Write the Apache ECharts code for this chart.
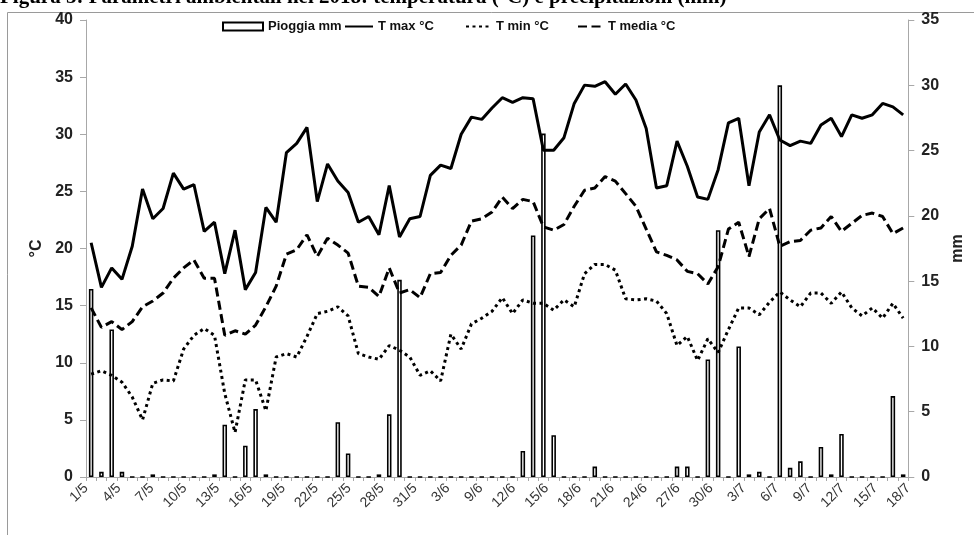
<!DOCTYPE html>
<html>
<head>
<meta charset="utf-8">
<script src="https://cdn.jsdelivr.net/npm/echarts@6/dist/echarts.min.js"></script>
<style>
  html, body { margin: 0; padding: 0; background: #fff; }
  #chart { width: 974px; height: 535px; }
</style>
</head>
<body>
<div id="chart"></div>
<script>
// Daily observations, 1 May – 19 July
const days = [
  '1/5','2/5','3/5','4/5','5/5','6/5','7/5','8/5','9/5','10/5',
  '11/5','12/5','13/5','14/5','15/5','16/5','17/5','18/5','19/5','20/5',
  '21/5','22/5','23/5','24/5','25/5','26/5','27/5','28/5','29/5','30/5',
  '31/5','1/6','2/6','3/6','4/6','5/6','6/6','7/6','8/6','9/6',
  '10/6','11/6','12/6','13/6','14/6','15/6','16/6','17/6','18/6','19/6',
  '20/6','21/6','22/6','23/6','24/6','25/6','26/6','27/6','28/6','29/6',
  '30/6','1/7','2/7','3/7','4/7','5/7','6/7','7/7','8/7','9/7',
  '10/7','11/7','12/7','13/7','14/7','15/7','16/7','17/7','18/7','19/7'
];

// Labels shown under the time axis
const tickLabels = [
  '1/5','4/5','7/5','10/5','13/5','16/5','19/5','22/5','25/5','28/5',
  '31/5','3/6','9/6','12/6','15/6','18/6','21/6','24/6','27/6','30/6',
  '3/7','6/7','9/7','12/7','15/7','18/7'
];

// Rainfall (mm)
const rain = [
  14.4, 0.4, 11.3, 0.4, 0, 0, 0.2, 0, 0, 0,
  0, 0, 0.2, 4.0, 0, 2.4, 5.2, 0.2, 0, 0,
  0, 0, 0, 0, 4.2, 1.8, 0, 0, 0.2, 4.8,
  15.1, 0, 0, 0, 0, 0, 0, 0, 0, 0,
  0, 0, 2.0, 18.5, 26.3, 3.2, 0, 0, 0, 0.8,
  0, 0, 0, 0, 0, 0, 0, 0.8, 0.8, 0,
  9.0, 18.9, 0, 10.0, 0.2, 0.4, 0, 30.0, 0.7, 1.2,
  0, 2.3, 0.2, 3.3, 0, 0, 0, 0, 6.2, 0.2
];

// Maximum temperature (°C)
const tMax = [
  20.5, 16.6, 18.3, 17.3, 20.2, 25.2, 22.6, 23.5, 26.6, 25.2,
  25.6, 21.5, 22.3, 17.8, 21.6, 16.4, 17.9, 23.6, 22.3, 28.4,
  29.2, 30.6, 24.1, 27.4, 25.9, 24.9, 22.3, 22.8, 21.2, 25.5,
  21.0, 22.6, 22.8, 26.4, 27.3, 27.0, 30.0, 31.5, 31.3, 32.3,
  33.2, 32.8, 33.2, 33.1, 28.6, 28.6, 29.7, 32.7, 34.3, 34.2,
  34.6, 33.5, 34.4, 33.0, 30.5, 25.3, 25.5, 29.4, 27.2, 24.5,
  24.3, 26.9, 31.0, 31.4, 25.5, 30.2, 31.7, 29.5, 29.0, 29.4,
  29.2, 30.8, 31.4, 29.8, 31.7, 31.4, 31.7, 32.7, 32.4, 31.7
];

// Minimum temperature (°C)
const tMin = [
  9.0, 9.3, 8.9, 8.3, 7.0, 5.0, 8.2, 8.5, 8.4, 11.2,
  12.4, 13.0, 12.4, 7.3, 3.9, 8.5, 8.5, 5.8, 10.5, 10.8,
  10.5, 12.3, 14.3, 14.5, 14.9, 14.1, 10.8, 10.5, 10.3, 11.5,
  11.1, 10.5, 8.9, 9.3, 8.4, 12.5, 11.2, 13.4, 13.9, 14.5,
  15.7, 14.3, 15.5, 15.2, 15.2, 14.6, 15.5, 14.9, 17.8, 18.6,
  18.6, 18.1, 15.6, 15.5, 15.6, 15.4, 14.3, 11.5, 12.3, 10.2,
  12.1, 10.9, 12.9, 14.8, 14.8, 14.2, 15.3, 16.2, 15.5, 14.9,
  16.1, 16.1, 15.2, 16.2, 14.8, 14.1, 14.8, 13.9, 15.2, 13.9
];

// Mean temperature (°C)
const tMedia = [
  14.8, 13.1, 13.6, 12.9, 13.6, 14.9, 15.4, 16.1, 17.4, 18.3,
  19.0, 17.4, 17.4, 12.4, 12.8, 12.5, 13.3, 14.9, 16.7, 19.5,
  19.9, 21.2, 19.3, 20.9, 20.3, 19.6, 16.7, 16.6, 15.8, 18.3,
  16.1, 16.4, 15.7, 17.8, 17.9, 19.4, 20.3, 22.4, 22.6, 23.2,
  24.5, 23.5, 24.3, 24.1, 21.9, 21.6, 22.1, 23.7, 25.1, 25.3,
  26.3, 25.9, 24.8, 23.7, 21.7, 19.7, 19.4, 19.0, 18.0, 17.8,
  16.9, 18.4, 21.7, 22.3, 19.3, 22.6, 23.5, 20.2, 20.6, 20.7,
  21.6, 21.8, 22.8, 21.5, 22.2, 22.9, 23.1, 22.8, 21.3, 21.8
];

const titleText = 'Figura 5: Parametri ambientali nel 2018: temperatura (°C) e precipitazioni (mm)';

const sans = '"Liberation Sans", Arial, sans-serif';
const axisGrey = '#a8a8a8';
const legendText = { fontFamily: sans, fontWeight: 'bold', fontSize: 13, color: '#111' };

// One legend block per series so each key can have its own width and place
function legendBlock(name, left, width, lineKey) {
  const item = { name: name };
  if (lineKey) {
    item.itemStyle = { opacity: 0 };
  } else {
    item.icon = 'rect';
  }
  return {
    left: left,
    top: 20,
    padding: 0,
    itemWidth: width,
    itemHeight: 8,
    textStyle: legendText,
    data: [item]
  };
}

const chart = echarts.init(document.getElementById('chart'), null, { renderer: 'canvas' });

chart.setOption({
  animation: false,
  backgroundColor: '#fff',
  textStyle: { fontFamily: sans },
  graphic: [
    {
      type: 'rect',
      silent: true,
      shape: { x: 7.5, y: 12.5, width: 1000, height: 560 },
      style: { fill: 'none', stroke: '#9a9a9a', lineWidth: 1 }
    },
    {
      type: 'text',
      silent: true,
      style: {
        x: 0, y: 8.5,
        text: titleText,
        font: 'bold 21px "Liberation Serif", "Times New Roman", serif',
        fill: '#000',
        verticalAlign: 'bottom'
      }
    }
  ],
  legend: [
    legendBlock('Pioggia mm', 222, 40, false),
    legendBlock('T max °C', 344, 28, true),
    legendBlock('T min °C', 465, 25, true),
    legendBlock('T media °C', 577, 25, true)
  ],
  grid: { left: 86, right: 57, top: 20, bottom: 58 },
  xAxis: [
    {
      type: 'category',
      data: days,
      boundaryGap: true,
      position: 'bottom',
      axisLine: { lineStyle: { color: axisGrey, width: 1 } },
      axisTick: { show: true, interval: 0, length: 4, lineStyle: { color: axisGrey } },
      axisLabel: { show: false },
      splitLine: { show: false }
    },
    {
      type: 'category',
      data: tickLabels,
      boundaryGap: false,
      position: 'bottom',
      axisLine: { show: false },
      axisTick: { show: false },
      axisLabel: {
        interval: 0,
        rotate: 45,
        margin: 9,
        fontFamily: sans,
        fontSize: 14,
        color: '#333'
      },
      splitLine: { show: false }
    }
  ],
  yAxis: [
    {
      type: 'value',
      position: 'left',
      min: 0, max: 40, interval: 5,
      name: '°C',
      nameLocation: 'middle',
      nameRotate: 90,
      nameGap: 29,
      nameTextStyle: { fontFamily: sans, fontWeight: 'bold', fontSize: 16, color: '#222' },
      axisLine: { show: true, lineStyle: { color: axisGrey, width: 1 } },
      axisTick: { show: true, length: 6, lineStyle: { color: axisGrey } },
      axisLabel: { fontFamily: sans, fontWeight: 'bold', fontSize: 16, color: '#222', margin: 13 },
      splitLine: { show: false }
    },
    {
      type: 'value',
      position: 'right',
      min: 0, max: 35, interval: 5,
      name: 'mm',
      nameLocation: 'middle',
      nameRotate: 90,
      nameGap: 39,
      nameTextStyle: { fontFamily: sans, fontWeight: 'bold', fontSize: 16, color: '#222' },
      axisLine: { show: true, lineStyle: { color: axisGrey, width: 1 } },
      axisTick: { show: true, length: 6, lineStyle: { color: axisGrey } },
      axisLabel: { fontFamily: sans, fontWeight: 'bold', fontSize: 16, color: '#222', margin: 13 },
      splitLine: { show: false }
    }
  ],
  series: [
    {
      name: 'Pioggia mm',
      type: 'bar',
      xAxisIndex: 0,
      yAxisIndex: 1,
      data: rain,
      barWidth: 4.5,
      itemStyle: { color: '#fff', borderColor: '#000', borderWidth: 1.6 }
    },
    {
      name: 'T max °C',
      type: 'line',
      xAxisIndex: 0,
      yAxisIndex: 0,
      data: tMax,
      symbol: 'none',
      lineStyle: { color: '#000', width: 3, type: 'solid' },
      itemStyle: { color: '#000' }
    },
    {
      name: 'T min °C',
      type: 'line',
      xAxisIndex: 0,
      yAxisIndex: 0,
      data: tMin,
      symbol: 'none',
      lineStyle: { color: '#000', width: 3, type: [3, 3.5] },
      itemStyle: { color: '#000' }
    },
    {
      name: 'T media °C',
      type: 'line',
      xAxisIndex: 0,
      yAxisIndex: 0,
      data: tMedia,
      symbol: 'none',
      lineStyle: { color: '#000', width: 3, type: [9, 4.5] },
      itemStyle: { color: '#000' }
    }
  ]
});
</script>
</body>
</html>
